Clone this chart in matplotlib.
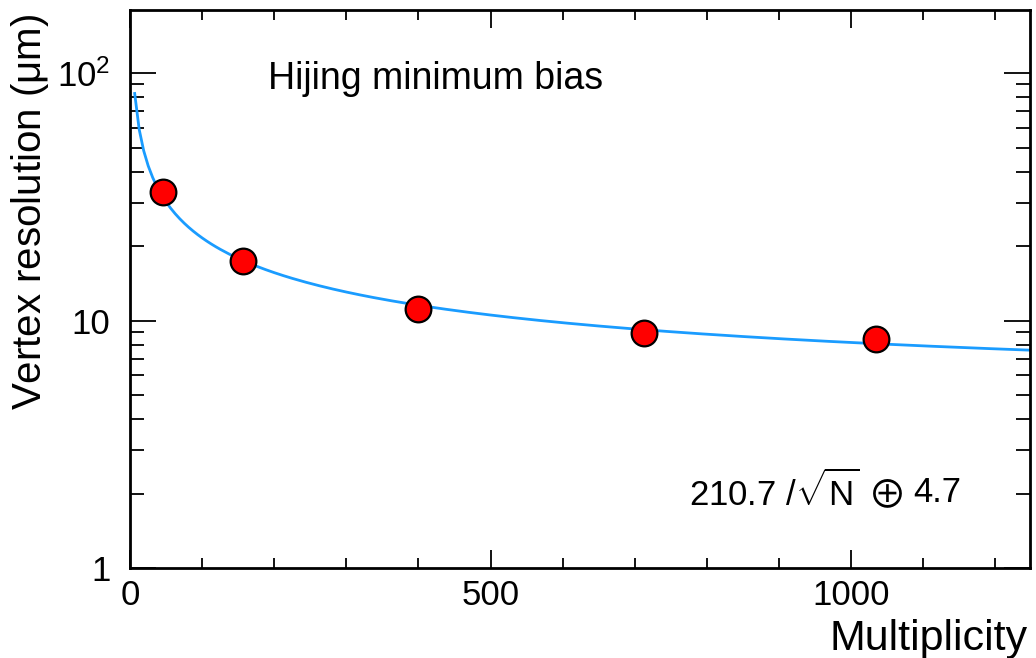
import numpy as np
import matplotlib
matplotlib.use("Agg")
import matplotlib.pyplot as plt
from matplotlib.ticker import FixedLocator, FuncFormatter

plt.rcParams['font.family'] = ['Liberation Sans', 'DejaVu Sans']
plt.rcParams['mathtext.fontset'] = 'custom'
plt.rcParams['mathtext.rm'] = 'Liberation Sans'
plt.rcParams['mathtext.it'] = 'Liberation Sans:italic'
plt.rcParams['mathtext.bf'] = 'Liberation Sans:bold'

# Data
multiplicity = [46, 157, 400, 713, 1035]
resolution = [33.0, 17.4, 11.1, 8.9, 8.4]

# Fit function parameters shown on the chart: A/sqrt(N) (+) B
fit_a = 210.7
fit_b = 4.7
fit_range = (6.5, 1250)

y_major = [1, 10, 100]
y_major_labels = ['1', '10', r'$10^2$']
x_major = [0, 500, 1000]

fig = plt.figure(figsize=(10.36, 6.58), dpi=100)
ax = fig.add_axes([130/1036, 1-568/658, 900/1036, 558/658])

n = np.linspace(fit_range[0], fit_range[1], 200)
curve = np.sqrt((fit_a/np.sqrt(n))**2 + fit_b**2)
ax.plot(n, curve, color='#1a9cff', lw=2.0, zorder=2)
ax.plot(multiplicity, resolution, 'o', ms=18.5, mfc='#ff0000', mec='black', mew=1.6, zorder=3)

ax.set_yscale('log')
ax.set_xlim(0, 1248)
ax.set_ylim(1, 180)

ax.xaxis.set_major_locator(FixedLocator(x_major))
ax.xaxis.set_minor_locator(FixedLocator(np.arange(0, 1250, 100)))
ax.yaxis.set_major_locator(FixedLocator(y_major))
ax.yaxis.set_major_formatter(FuncFormatter(lambda v, p: dict(zip(y_major, y_major_labels)).get(round(v), '')))
minors = [m*10**d for d in range(0, 3) for m in range(2, 10) if m*10**d < 180]
ax.yaxis.set_minor_locator(FixedLocator(minors))
ax.yaxis.set_minor_formatter(FuncFormatter(lambda v, p: ''))

for s in ax.spines.values():
    s.set_linewidth(2.0)
ax.tick_params(which='both', direction='in', top=True, right=True, width=1.3, labelsize=25)
ax.tick_params(axis='x', which='major', length=13, pad=8)
ax.tick_params(axis='x', which='minor', length=7)
ax.tick_params(axis='y', which='major', length=19, pad=14)
ax.tick_params(axis='y', which='minor', length=10)

ax.text(0.153, 0.876, 'Hijing minimum bias', transform=ax.transAxes, fontsize=27, ha='left', va='center')

# formula annotation, in pieces so the circled-plus glyph comes from a font that has it
ax.text(0.621, 0.136, r'210.7 /$\sqrt{\mathrm{N}}$', transform=ax.transAxes, fontsize=25, ha='left', va='center')
ax.text((887-130)/900, 0.128, '\u2295', transform=ax.transAxes, fontsize=28, ha='center', va='center',
        family=['Noto Sans CJK SC', 'DejaVu Sans'])
ax.text((913-130)/900, 0.136, '4.7', transform=ax.transAxes, fontsize=25, ha='left', va='center')

fig.text(30/1036, 1-212/658, r'Vertex resolution ($\mathrm{\mu}$m)', rotation=90, fontsize=29, ha='center', va='center')
fig.text(1028/1036, 1-650/658, 'Multiplicity', fontsize=31, ha='right', va='baseline')

fig.savefig('out.png', dpi=100)
